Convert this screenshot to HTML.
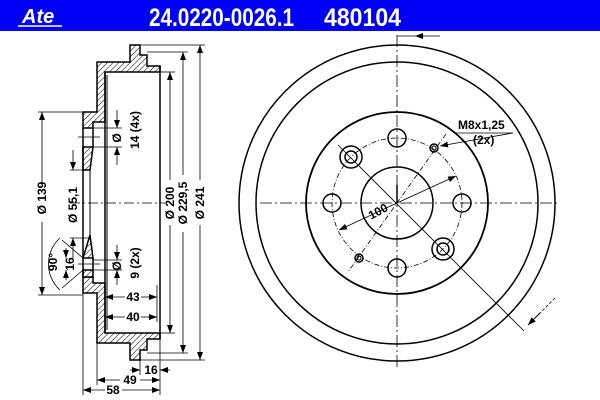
<!DOCTYPE html>
<html><head><meta charset="utf-8"><style>
html,body{margin:0;padding:0;background:#fff;width:600px;height:400px;overflow:hidden}
svg text{font-family:"Liberation Sans",Arial,sans-serif;font-weight:bold;fill:#000}
</style></head><body>
<svg width="600" height="400" viewBox="0 0 600 400" xmlns="http://www.w3.org/2000/svg">
<defs>
<pattern id="h" width="4" height="4" patternUnits="userSpaceOnUse" patternTransform="rotate(45)">
<rect width="4" height="4" fill="#fff"/><line x1="0" y1="0" x2="0" y2="4" stroke="#000" stroke-width="1"/></pattern>
<marker id="a" markerWidth="8" markerHeight="6" refX="8" refY="3" orient="auto" markerUnits="userSpaceOnUse"><path d="M0,0 L8,3 L0,6z" fill="#000"/></marker>
</defs>
<rect x="0" y="0" width="600" height="31" fill="#0000f6"/>
<text x="22" y="23" font-size="20" font-style="italic" style="fill:#fff">Ate</text>
<line x1="18" y1="26" x2="62" y2="26" stroke="#fff" stroke-width="1.5"/>
<text x="149" y="26" font-size="25" style="fill:#fff" textLength="145" lengthAdjust="spacingAndGlyphs">24.0220-0026.1</text>
<text x="324" y="26" font-size="25" style="fill:#fff" textLength="77" lengthAdjust="spacingAndGlyphs">480104</text>

<!-- LEFT VIEW -->
<g stroke="#000" stroke-width="1.5">
<path d="M130,45 L140,45 L140,55 L147,55 L147,66 L160,66 L160,72 L105,72 L105,122 L93,122 L93,128 L83,128 L83,112 L97,112 L97,62 L130,62 Z" fill="url(#h)"/>
<path d="M130,360 L140,360 L140,350 L147,350 L147,339 L160,339 L160,333 L105,333 L105,283 L93,283 L93,277 L83,277 L83,293 L97,293 L97,343 L130,343 Z" fill="url(#h)"/>
<path d="M83,147 L93,147 L90,170 L83,170 Z" fill="url(#h)"/>
<path d="M83,258 L90,235 L93,258 Z" fill="url(#h)"/>
<path d="M83,270 L93,270 L93,277 L83,277 Z" fill="url(#h)"/>
<line x1="83" y1="128" x2="83" y2="277"/>
<line x1="93" y1="128" x2="93" y2="147"/>
<line x1="93" y1="258" x2="93" y2="270"/>
<line x1="90" y1="170" x2="90" y2="235" stroke-width="1"/>
<line x1="105" y1="72" x2="105" y2="333"/>
<line x1="107" y1="75" x2="107" y2="330" stroke-width="1"/>
<line x1="160" y1="66" x2="160" y2="339"/>
</g>
<line x1="78" y1="137" x2="100" y2="137" stroke="#000" stroke-width="0.7"/>
<line x1="78" y1="264" x2="100" y2="264" stroke="#000" stroke-width="0.7"/>
<line x1="70" y1="203" x2="165" y2="203" stroke="#000" stroke-width="0.8" stroke-dasharray="10,3,2,3"/>
<g stroke="#000" stroke-width="0.8" fill="none">
<line x1="160" y1="72" x2="175" y2="72"/><line x1="160" y1="333" x2="175" y2="333"/>
<line x1="147" y1="52" x2="188" y2="52"/><line x1="147" y1="353" x2="188" y2="353"/>
<line x1="140" y1="45" x2="205" y2="45"/><line x1="140" y1="360" x2="205" y2="360"/>
<line x1="170" y1="180" x2="170" y2="72" marker-end="url(#a)"/><line x1="170" y1="225" x2="170" y2="333" marker-end="url(#a)"/>
<line x1="183" y1="175" x2="183" y2="52" marker-end="url(#a)"/><line x1="183" y1="232" x2="183" y2="353" marker-end="url(#a)"/>
<line x1="200" y1="180" x2="200" y2="45" marker-end="url(#a)"/><line x1="200" y1="225" x2="200" y2="360" marker-end="url(#a)"/>
<line x1="38" y1="112" x2="83" y2="112"/><line x1="38" y1="295" x2="83" y2="295"/>
<line x1="42" y1="185" x2="42" y2="112" marker-end="url(#a)"/><line x1="42" y1="222" x2="42" y2="295" marker-end="url(#a)"/>
<line x1="70" y1="170" x2="90" y2="170"/><line x1="70" y1="238" x2="90" y2="238"/>
<line x1="73" y1="150" x2="73" y2="170" marker-end="url(#a)"/><line x1="73" y1="258" x2="73" y2="238" marker-end="url(#a)"/>
<line x1="93" y1="128" x2="122" y2="128"/><line x1="93" y1="147" x2="122" y2="147"/>
<line x1="117" y1="110" x2="117" y2="128" marker-end="url(#a)"/><line x1="117" y1="165" x2="117" y2="147" marker-end="url(#a)"/>
<line x1="93" y1="260" x2="122" y2="260"/><line x1="93" y1="270" x2="122" y2="270"/>
<line x1="117" y1="245" x2="117" y2="260" marker-end="url(#a)"/><line x1="117" y1="285" x2="117" y2="270" marker-end="url(#a)"/>
<line x1="62" y1="240" x2="83" y2="258"/><line x1="62" y1="288" x2="83" y2="270"/>
<line x1="66" y1="248" x2="66" y2="258" marker-end="url(#a)"/><line x1="66" y1="280" x2="66" y2="270" marker-end="url(#a)"/>
<path d="M60,238 A35,35 0 0 0 60,290" />
<line x1="105" y1="285" x2="105" y2="322"/><line x1="157" y1="285" x2="157" y2="322"/>
<line x1="125" y1="297" x2="105" y2="297" marker-end="url(#a)"/><line x1="141" y1="297" x2="157" y2="297" marker-end="url(#a)"/>
<line x1="125" y1="317" x2="105" y2="317" marker-end="url(#a)"/><line x1="141" y1="317" x2="157" y2="317" marker-end="url(#a)"/>
<line x1="140" y1="360" x2="140" y2="375"/><line x1="160" y1="339" x2="160" y2="395"/>
<line x1="97" y1="343" x2="97" y2="385"/><line x1="83" y1="293" x2="83" y2="395"/>
<line x1="130" y1="370" x2="140" y2="370" marker-end="url(#a)"/><line x1="170" y1="370" x2="160" y2="370" marker-end="url(#a)"/>
<line x1="120" y1="380" x2="97" y2="380" marker-end="url(#a)"/><line x1="140" y1="380" x2="160" y2="380" marker-end="url(#a)"/>
<line x1="105" y1="390" x2="83" y2="390" marker-end="url(#a)"/><line x1="122" y1="390" x2="160" y2="390" marker-end="url(#a)"/>
</g>
<g font-size="12">
<text x="133" y="301" text-anchor="middle">43</text>
<text x="133" y="321" text-anchor="middle">40</text>
<text x="151" y="374" text-anchor="middle">16</text>
<text x="130" y="384" text-anchor="middle">49</text>
<text x="113" y="394" text-anchor="middle">58</text>
<text transform="translate(174,203) rotate(-90)" text-anchor="middle">Ø 200</text>
<text transform="translate(187,203) rotate(-90)" text-anchor="middle">Ø 229,5</text>
<text transform="translate(204,203) rotate(-90)" text-anchor="middle">Ø 241</text>
<text transform="translate(46,198) rotate(-90)" text-anchor="middle">Ø 139</text>
<text transform="translate(77,205) rotate(-90)" text-anchor="middle">Ø 55,1</text>
<text transform="translate(121,138) rotate(-90)" text-anchor="middle">Ø</text>
<text transform="translate(139,130) rotate(-90)" text-anchor="middle">14 (4x)</text>
<text transform="translate(121,266) rotate(-90)" text-anchor="middle">Ø</text>
<text transform="translate(139,263) rotate(-90)" text-anchor="middle">9 (2x)</text>
<text transform="translate(74,264) rotate(-90)" text-anchor="middle">16</text>
<text transform="translate(57,262) rotate(-90)" text-anchor="middle">90°</text>
</g>

<!-- RIGHT VIEW -->
<g stroke="#000" fill="none">
<line x1="397" y1="35" x2="397" y2="368" stroke-width="0.8" stroke-dasharray="12,3,2,3"/>
<line x1="260" y1="203" x2="560" y2="203" stroke-width="0.8" stroke-dasharray="12,3,2,3"/>
<line x1="440" y1="36" x2="415" y2="36" stroke-width="0.8" marker-end="url(#a)"/>
<line x1="397" y1="36" x2="415" y2="36" stroke-width="0.8"/>
<circle cx="397" cy="203" r="158" stroke-width="1.5"/>
<circle cx="397" cy="203" r="141" stroke-width="1.5"/>
<circle cx="397" cy="203" r="91" stroke-width="1.8"/>
<circle cx="397" cy="203" r="36" stroke-width="1.5"/>
<circle cx="397" cy="203" r="65" stroke-width="0.8" stroke-dasharray="5,2,1,2"/>
<g stroke-width="1.5">
<circle cx="397" cy="138" r="9"/><circle cx="462" cy="203" r="9"/><circle cx="397" cy="268" r="9"/><circle cx="332" cy="203" r="9"/>
<circle cx="351" cy="157" r="11"/><circle cx="351" cy="157" r="6"/>
<circle cx="443" cy="249" r="11"/><circle cx="443" cy="249" r="6"/>
<circle cx="434" cy="148" r="4"/><circle cx="434" cy="148" r="2" stroke-width="1"/>
<circle cx="359" cy="258" r="4"/><circle cx="359" cy="258" r="2" stroke-width="1"/>
</g>
<line x1="338" y1="145" x2="524" y2="331" stroke-width="0.8"/>
<line x1="446" y1="134" x2="348" y2="272" stroke-width="0.8" stroke-dasharray="5,2,1,2"/>
<line x1="397" y1="203" x2="456" y2="176" stroke-width="0.8" marker-end="url(#a)"/>
<line x1="397" y1="203" x2="339" y2="230" stroke-width="0.8" marker-end="url(#a)"/>
<line x1="397" y1="185" x2="397" y2="203" stroke-width="1.5"/>
<line x1="513" y1="133" x2="440" y2="146" stroke-width="0.8" marker-end="url(#a)"/>
<line x1="455" y1="133" x2="513" y2="133" stroke-width="0.8"/>
<line x1="555" y1="298" x2="537" y2="316" stroke-width="0.8" stroke-dasharray="3,2"/>
<line x1="540" y1="313" x2="528" y2="325" stroke-width="1" marker-end="url(#a)"/>
</g>
<text x="458" y="129" font-size="12">M8x1,25</text>
<text x="473" y="144" font-size="12">(2x)</text>
<text transform="translate(380,215) rotate(-28)" font-size="12" text-anchor="middle">100</text>
</svg>
</body></html>
